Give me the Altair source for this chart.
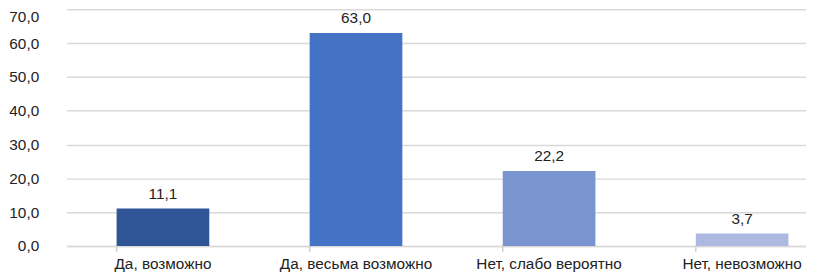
import altair as alt
import pandas as pd

categories = ["Да, возможно", "Да, весьма возможно", "Нет, слабо вероятно", "Нет, невозможно"]
values = [11.1, 63.0, 22.2, 3.7]
colors = ["#2F5597", "#4472C4", "#7A94CF", "#ADB9E0"]

df = pd.DataFrame({"cat": categories, "val": values, "col": colors})
df["lbl"] = [f"{v:.1f}".replace(".", ",") for v in values]

FONT = "Liberation Sans"
xscale = alt.Scale(domain=categories, range=[0, 780], paddingInner=0.52, paddingOuter=0.26)
yscale = alt.Scale(domain=[0, 70], range=[239, 0], nice=False)

xaxis = alt.Axis(orient="bottom", labelAngle=0, labelFont=FONT, labelFontSize=15.5,
                 labelColor="#222222", ticks=False, domain=True, domainColor="#D9D9D9",
                 domainWidth=1.5, labelPadding=11, grid=False)
yaxis = alt.Axis(values=[0, 10, 20, 30, 40, 50, 60, 70],
                 labelExpr="replace(format(datum.value, '.1f'), '.', ',')",
                 labelFont=FONT, labelFontSize=15.5, labelColor="#222222",
                 labelOverlap=False,
                 labelBaseline=alt.ExprRef(expr="datum.value == 70 ? 'top' : 'middle'"),
                 ticks=False, domain=False, grid=True, gridColor="#D9D9D9", gridWidth=1.5,
                 labelPadding=28)

base = alt.Chart(df)

bars = base.mark_bar(clip=False).encode(
    x=alt.X("cat:N", scale=xscale, sort=categories, title=None, axis=xaxis),
    y=alt.Y("val:Q", scale=yscale, title=None, axis=yaxis),
    color=alt.Color("col:N", scale=None),
)

labels = base.mark_text(baseline="bottom", dy=-7, font=FONT, fontSize=15.5, color="#222222").encode(
    x=alt.X("cat:N", scale=xscale, sort=categories, title=None, axis=xaxis),
    y=alt.Y("val:Q", scale=yscale, title=None, axis=yaxis),
    text="lbl:N",
)

ticks = base.mark_rule(color="#D0D0D0", strokeWidth=1.5, clip=False).encode(
    x=alt.X("cat:N", scale=xscale, sort=categories, title=None, axis=xaxis, bandPosition=0),
    y=alt.value(239),
    y2=alt.value(245),
)

chart = alt.layer(bars, labels, ticks).properties(
    width=747, height=239,
    padding={"left": 59, "top": 0, "right": 0, "bottom": 29},
    autosize=alt.AutoSizeParams(type="none"),
).configure_view(stroke=None)

chart.save("out.html", embed_options={"renderer": "svg", "actions": False})
